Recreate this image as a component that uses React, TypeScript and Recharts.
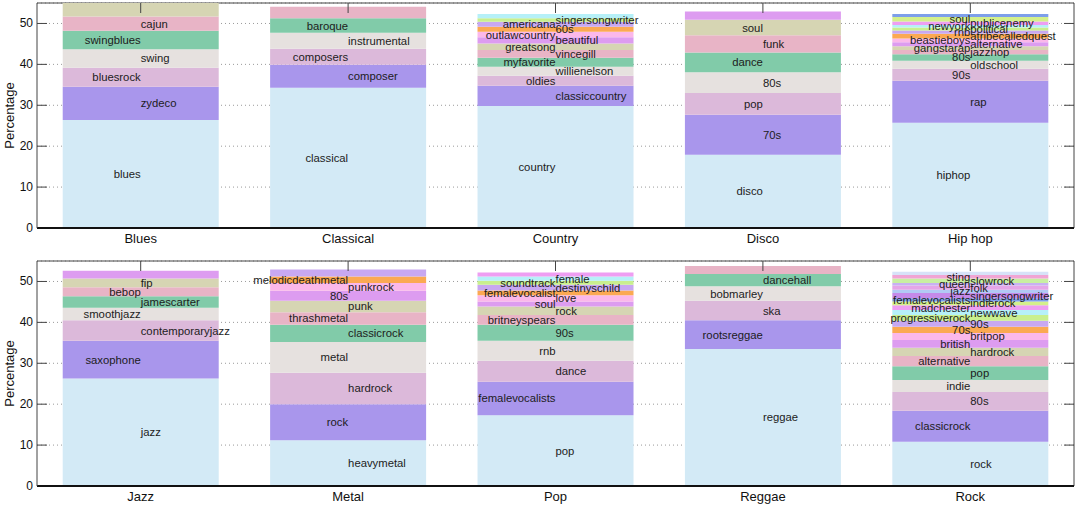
import React from 'react';
import { BarChart, Bar, XAxis, YAxis, CartesianGrid } from 'recharts';

// tag shares (percent) per genre, bottom segment first; last segment is the unlabeled remainder
const topGenres = ['Blues', 'Classical', 'Country', 'Disco', 'Hip hop'];
const bottomGenres = ['Jazz', 'Metal', 'Pop', 'Reggae', 'Rock'];

const bluesTags = ['blues', 'zydeco', 'bluesrock', 'swing', 'swingblues', 'cajun', ''];
const bluesValues = [26.4, 8.1, 4.7, 4.5, 4.5, 3.5, 3.3];

const classicalTags = ['classical', 'composer', 'composers', 'instrumental', 'baroque', ''];
const classicalValues = [34.3, 5.6, 3.9, 3.9, 3.6, 2.8];

const countryTags = ['country', 'classiccountry', 'oldies', 'willienelson', 'myfavorite', 'vincegill', 'greatsong', 'beautiful', 'outlawcountry', '60s', 'americana', 'singersongwriter', ''];
const countryValues = [29.8, 5.0, 2.4, 2.2, 2.2, 1.9, 1.6, 1.5, 1.4, 1.2, 1.2, 0.9, 1.0];

const discoTags = ['disco', '70s', 'pop', '80s', 'dance', 'funk', 'soul', ''];
const discoValues = [17.9, 9.8, 5.3, 5.1, 4.8, 4.2, 3.8, 2.0];

const hiphopTags = ['hiphop', 'rap', '90s', 'oldschool', '80s', 'jazzhop', 'gangstarap', 'alternative', 'beastieboys', 'atribecalledquest', 'rnb', 'political', 'newyork', 'publicenemy', 'soul', ''];
const hiphopValues = [25.7, 10.3, 2.9, 2.0, 1.6, 1.0, 0.9, 1.0, 0.9, 1.2, 0.8, 0.7, 0.6, 0.9, 1.1, 0.7];

const jazzTags = ['jazz', 'saxophone', 'contemporaryjazz', 'smoothjazz', 'jamescarter', 'bebop', 'fip', ''];
const jazzValues = [26.3, 9.2, 5.0, 3.1, 2.8, 2.2, 2.1, 1.9];

const metalTags = ['heavymetal', 'rock', 'hardrock', 'metal', 'classicrock', 'thrashmetal', 'punk', '80s', 'punkrock', 'melodicdeathmetal', ''];
const metalValues = [11.2, 8.8, 7.7, 7.5, 4.2, 3.1, 2.8, 2.4, 1.9, 1.6, 1.7];

const popTags = ['pop', 'femalevocalists', 'dance', 'rnb', '90s', 'britneyspears', 'rock', 'soul', 'love', 'femalevocalist', 'destinyschild', 'soundtrack', 'female', ''];
const popValues = [17.3, 8.2, 5.1, 4.9, 3.9, 2.4, 2.1, 1.2, 1.5, 1.2, 1.4, 1.0, 1.0, 1.0];

const reggaeTags = ['reggae', 'rootsreggae', 'ska', 'bobmarley', 'dancehall', ''];
const reggaeValues = [33.5, 7.0, 4.8, 3.5, 3.0, 2.0];

const rockTags = ['rock', 'classicrock', '80s', 'indie', 'pop', 'alternative', 'hardrock', 'british', 'britpop', '70s', '90s', 'progressiverock', 'newwave', 'madchester', 'indierock', 'femalevocalists', 'singersongwriter', 'jazz', 'folk', 'queen', 'slowrock', 'sting', ''];
const rockValues = [10.8, 7.6, 4.6, 2.9, 3.4, 2.5, 2.0, 1.9, 1.7, 1.5, 1.5, 1.4, 1.2, 1.2, 0.9, 0.8, 1.3, 0.8, 1.0, 0.6, 1.1, 0.9, 0.8];

const yTicks = [0, 10, 20, 30, 40, 50];

const palette = [
    '#d3eaf6', '#a996ec', '#dcb9da', '#e6e1df', '#81cba9', '#e8b4c6', '#d6d5b3', '#dd9cf0',
    '#fbb8ea', '#fba952', '#c8a8f1', '#c9ef8e', '#b6f0f8', '#ee9ef2', '#d4f08b', '#7e9fea',
    '#c58ae9', '#b2c9f4', '#e5a6e8', '#c8b1f2', '#c9efa2', '#f1a5d4', '#d7e2f8',
];

const W = 1076;
const MARGIN_RIGHT = 2;
const Y_AXIS_W = 37;
const PLOT_RIGHT = W - MARGIN_RIGHT;
const FONT = '"Liberation Sans", Arial, Helvetica, sans-serif';

// missing segments become 0 so every series keeps one entry per genre
const buildRows = (genres: string[], values: number[][], maxSeg: number) =>
    genres.map((genre, g) => {
        const row: any = { genre };
        for (let i = 0; i < maxSeg; i++) {
            row[`s${i}`] = values[g][i] ?? 0;
        }
        return row;
    });

const YTick = (props: any) => {
    const { x, y, payload } = props;
    const axisX = x + 4;
    return (
        <g>
            {payload.value !== 0 && (
                <>
                    <line x1={axisX} x2={axisX + 10} y1={y} y2={y} stroke="#444" />
                    <line x1={PLOT_RIGHT - 10} x2={PLOT_RIGHT} y1={y} y2={y} stroke="#444" />
                </>
            )}
            <text x={x} y={y} textAnchor="end" dominantBaseline="central" fontSize={12} fill="#111" fontFamily={FONT}>
                {payload.value}
            </text>
        </g>
    );
};

const makeXTick = (plotTop: number) => (props: any) => {
    const { x, y, payload } = props;
    return (
        <g>
            <line x1={x} x2={x} y1={plotTop} y2={plotTop + 10} stroke="#444" />
            <text x={x} y={y + 8.5} textAnchor="middle" fontSize={13} fill="#111" fontFamily={FONT}>
                {payload.value}
            </text>
        </g>
    );
};

const YLabel = (props: any) => {
    const { viewBox } = props;
    const cx = viewBox.x + 9;
    const cy = viewBox.y + viewBox.height / 2;
    return (
        <text x={cx} y={cy} transform={`rotate(-90 ${cx} ${cy})`} textAnchor="middle" dominantBaseline="central" fontSize={13} fill="#111" fontFamily={FONT}>
            Percentage
        </text>
    );
};

interface PanelProps {
    genres: string[];
    tags: string[][];
    values: number[][];
    height: number;
    marginTop: number;
    xAxisHeight: number;
    parity: number;
}

const Panel: React.FC<PanelProps> = ({ genres, tags, values, height, marginTop, xAxisHeight, parity }) => {
    const maxSeg = Math.max(...values.map((v) => v.length));
    const rows = buildRows(genres, values, maxSeg);
    const band = (PLOT_RIGHT - Y_AXIS_W) / genres.length;

    const segLabel = (i: number) => (p: any) => {
        const cx = p.x + p.width / 2;
        const g = Math.floor((cx - Y_AXIS_W) / band);
        const tag = tags[g]?.[i];
        if (!tag || !p.height) return null;
        const anchor = (i + parity) % 2 === 0 ? 'end' : 'start';
        return (
            <text
                key={`l-${i}-${g}`}
                x={cx}
                y={p.y + p.height / 2}
                textAnchor={anchor}
                dominantBaseline="central"
                fontSize={11.3}
                fill="#1c1c1c"
                fontFamily={FONT}
            >
                {tag}
            </text>
        );
    };

    return (
        <BarChart
            width={W}
            height={height}
            data={rows}
            margin={{ top: marginTop, right: MARGIN_RIGHT, left: 0, bottom: 0 }}
            barCategoryGap="12.4%"
        >
            <CartesianGrid vertical={false} stroke="#9a9a9a" strokeDasharray="1 3" />
            <CartesianGrid
                stroke="#444"
                horizontalCoordinatesGenerator={({ offset }: any) => [offset.top]}
                verticalCoordinatesGenerator={({ offset }: any) => [offset.left + offset.width]}
            />
            <XAxis
                dataKey="genre"
                height={xAxisHeight}
                tickLine={false}
                tickSize={4}
                tickMargin={2}
                axisLine={{ stroke: '#111', strokeWidth: 2 }}
                tick={makeXTick(marginTop)}
                interval={0}
            />
            <YAxis
                type="number"
                domain={[0, 55]}
                ticks={yTicks}
                allowDataOverflow
                width={Y_AXIS_W}
                tickLine={false}
                tickSize={2}
                tickMargin={2}
                axisLine={{ stroke: '#444' }}
                tick={<YTick />}
                label={<YLabel />}
            />
            {Array.from({ length: maxSeg }, (_, i) => (
                <Bar
                    key={i}
                    dataKey={`s${i}`}
                    stackId="a"
                    fill={palette[i % palette.length]}
                    isAnimationActive={false}
                    label={segLabel(i)}
                />
            ))}
        </BarChart>
    );
};

export default function App() {
    return (
        <div style={{ position: 'absolute', left: 0, top: 0, width: W, height: 505, background: '#fff' }}>
            <Panel
                genres={topGenres}
                tags={[bluesTags, classicalTags, countryTags, discoTags, hiphopTags]}
                values={[bluesValues, classicalValues, countryValues, discoValues, hiphopValues]}
                height={252}
                marginTop={3}
                xAxisHeight={24}
                parity={0}
            />
            <Panel
                genres={bottomGenres}
                tags={[jazzTags, metalTags, popTags, reggaeTags, rockTags]}
                values={[jazzValues, metalValues, popValues, reggaeValues, rockValues]}
                height={253}
                marginTop={9}
                xAxisHeight={19}
                parity={1}
            />
        </div>
    );
}
